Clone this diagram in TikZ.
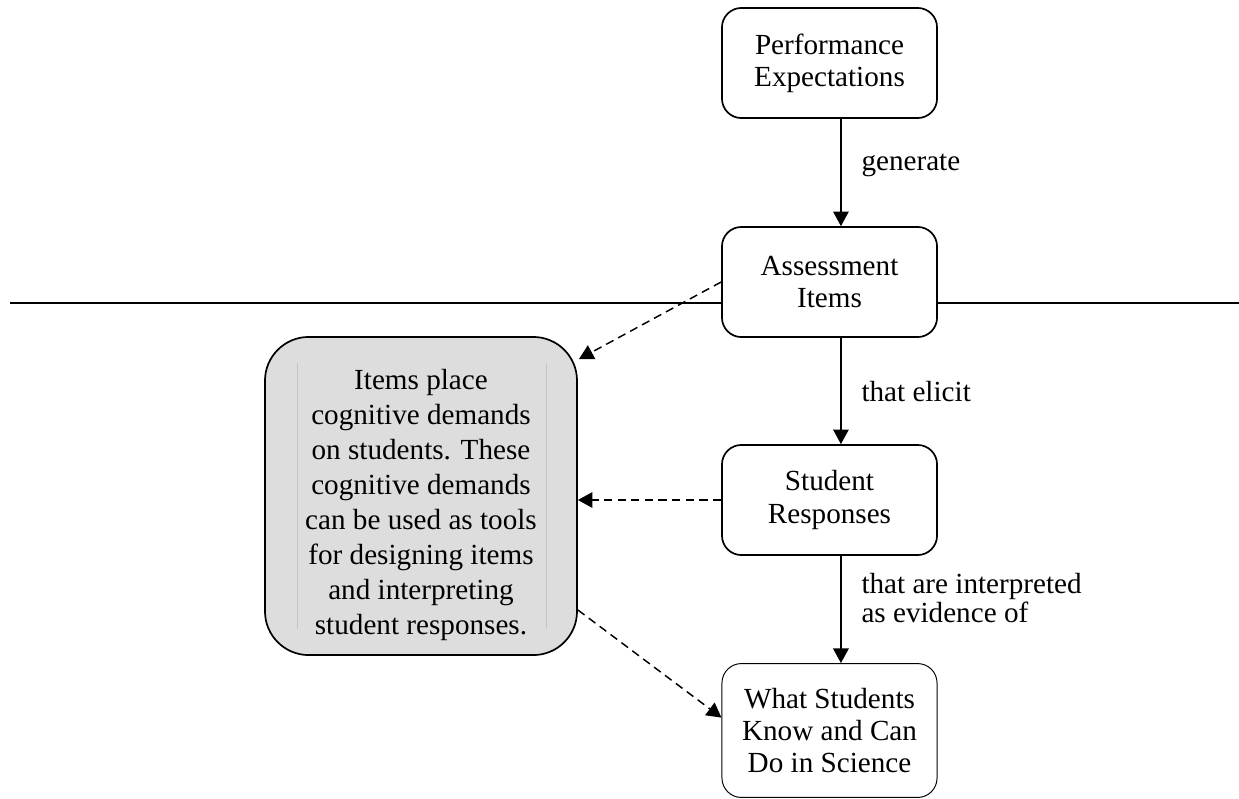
\documentclass[tikz,border=0pt]{standalone}
\usepackage{fontspec}
\setmainfont{Liberation Serif}
\usepackage{tikz}
\usetikzlibrary{arrows.meta,positioning,calc}
\definecolor{noteGray}{RGB}{221,221,221}
\definecolor{faintGray}{RGB}{196,196,196}

\begin{document}
\begin{tikzpicture}[x=0.4115pt,y=-0.4115pt,
flow/.style={rectangle,rounded corners=8pt,draw,line width=0.7pt,align=center,
  minimum width=88.5pt,minimum height=45.3pt,inner sep=0pt,
  font=\fontsize{12}{13.2}\selectfont},
goal/.style={flow,line width=0.4pt,minimum height=55.1pt},
notebox/.style={rectangle,rounded corners=18pt,draw,line width=0.7pt,fill=noteGray,
  minimum width=128.4pt,minimum height=130.9pt,inner sep=0pt},
notetxt/.style={align=center,inner sep=0pt,font=\fontsize{12}{14.4}\selectfont},
lbl/.style={anchor=west,align=left,inner sep=0pt,font=\fontsize{12}{12.3}\selectfont},
main/.style={-{Triangle[length=6pt,width=6.4pt]},line width=0.6pt},
hint/.style={-{Triangle[length=6pt,width=6.4pt]},line width=0.6pt,dash pattern=on 3.4pt off 2.2pt},
rule/.style={line width=0.8pt},
faint/.style={draw=faintGray,line width=0.4pt}]
\useasboundingbox (0,0) rectangle (1239,798);

\node (pe) at (829.5,63) [flow] {Performance\\Expectations};
\node (ai) at (829.5,282) [flow] {Assessment\\Items};
\node (sr) at (829.5,500) [flow] {Student\\Responses};
\node (ws) at (829.5,730.5) [goal] {What Students\\Know and Can\\Do in Science};

\node (note) at (421,496) [notebox] {};
\draw[faint] (297,363) -- (297,629);
\draw[faint] (546,363) -- (546,629);
\node (notetext) at (421,505) [notetxt] {Items place\\cognitive demands\\on students. These\\cognitive demands\\can be used as tools\\for designing items\\and interpreting\\student responses.};

\node (lgen) at (861,165) [lbl] {generate};
\node (lelicit) at (861,392) [lbl] {that elicit};
\node (lev) at (861,598) [lbl] {that are interpreted\\as evidence of};

\coordinate (ruleL) at (10,303);
\coordinate (ruleR) at (1239,303);
\draw[rule] (ruleL) -- (ruleL -| ai.west);
\draw[rule] (ruleR -| ai.east) -- (ruleR);

\draw[main] ([xshift=4.7pt]pe.south) -- ([xshift=4.7pt]ai.north);
\draw[main] ([xshift=4.7pt]ai.south) -- ([xshift=4.7pt]sr.north);
\draw[main] ([xshift=4.7pt]sr.south) -- ([xshift=4.7pt]ws.north);

\draw[hint] (ai.west) -- ([xshift=0.4pt,yshift=-9.5pt]note.north east);
\draw[hint] (sr.west) -- (sr.west -| note.east);
\draw[hint] ([yshift=-46.9pt]note.east) -- ([yshift=5.3pt]ws.west);

\end{tikzpicture}
\end{document}
